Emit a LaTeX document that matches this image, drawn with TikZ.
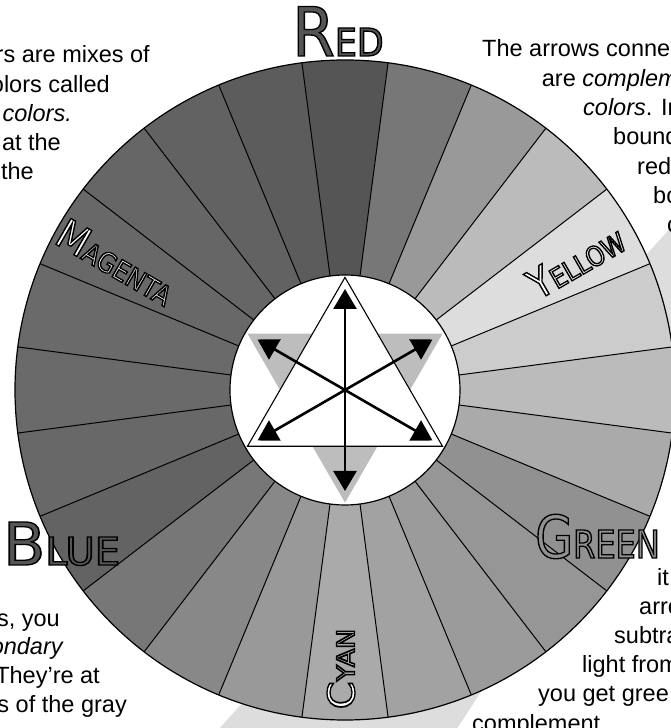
\documentclass[tikz,border=0pt]{standalone}
\usepackage{fontspec}
\usepackage{graphicx}
\setmainfont{Liberation Sans}
\newfontfamily\labfont[FakeStretch=0.8]{DejaVu Sans}
\usetikzlibrary{arrows.meta}
\definecolor{bandgray}{RGB}{221,221,221}
\definecolor{stargray}{RGB}{189,189,189}
\definecolor{darklab}{RGB}{85,85,85}
\definecolor{greenlab}{RGB}{145,145,145}
\newcommand\outlinetext[1]{\special{pdf:literal direct 0 G 2 Tr 1.3 w}#1\special{pdf:literal direct 0 Tr}}
\newcommand\capsl[5]{\scalebox{#1}[1]{\labfont\fontsize{#4}{#4}\selectfont #2\fontsize{#5}{#5}\selectfont #3}}
\tikzset{
  body/.style={font=\fontsize{23.5}{29}\selectfont, inner sep=0pt, text=black},
  lab/.style={inner sep=0pt},
  arr/.style={line width=2.6pt, {Triangle[length=20pt,width=23pt]}-{Triangle[length=20pt,width=23pt]}},
}
\begin{document}
\begin{tikzpicture}[x=1pt,y=1pt]
\useasboundingbox (0,0) rectangle (671,728);
\clip (0,0) rectangle (671,728);
% light band behind the wheel
\fill[bandgray] (186.5,-37) -- (720,555) -- (720,403) -- (445,-19) -- cycle;
% texts
\node[body, anchor=base east] (t1) at (150,665) {rs are mixes of};
\node[body, anchor=base east] (t2) at (110,635.7) {olors called};
\node[body, anchor=base east] (t3) at (72,606.4) {\textit{colors.}};
\node[body, anchor=base east] (t4) at (61,577) {at the};
\node[body, anchor=base east] (t5) at (34,548) {the};
\node[body, anchor=base west] (r1) at (482,671) {The arrows conne};
\node[body, anchor=base west] (r2) at (541.7,641) {are \textit{complemen}};
\node[body, anchor=base west] (r3) at (583,612) {\textit{colors}. In};
\node[body, anchor=base west] (r4) at (613,583) {bound};
\node[body, anchor=base west] (r5) at (637,553) {red};
\node[body, anchor=base west] (r6) at (653,524) {bo};
\node[body, anchor=base west] (r7) at (667,495) {c};
\node[body, anchor=base east] (b1) at (60,101.5) {s, you};
\node[body, anchor=base east] (b2) at (64,73) {\textit{ondary}};
\node[body, anchor=base east] (b3) at (100,44.5) {They're at};
\node[body, anchor=base east] (b4) at (127,16) {s of the gray};
\node[body, anchor=base west] (g1) at (657,142) {it};
\node[body, anchor=base west] (g2) at (639,113) {arro};
\node[body, anchor=base west] (g3) at (614,84) {subtra};
\node[body, anchor=base west] (g4) at (582,55) {light from};
\node[body, anchor=base west] (g5) at (538,26) {you get gree};
\node[body, anchor=base west] (g6) at (472,-3) {complement};
% wheel
\begin{scope}[shift={(345,338)}]
\foreach \a/\g in {90/85, 75/119, 60/153, 45/187, 30/221, 15/204, 0/187, -15/170, -30/145, -45/150, -60/155, -75/162, -90/170, -105/153, -120/136, -135/119, -150/99, -165/104, 180/106, 165/106, 150/104, 135/102, 120/98, 105/92}{
  \definecolor{segc}{RGB}{\g,\g,\g}
  \fill[segc] (\a-7.5:115) arc[start angle=\a-7.5, end angle=\a+7.5, radius=115] -- (\a+7.5:330) arc[start angle=\a+7.5, end angle=\a-7.5, radius=330] -- cycle;
}
\foreach \a in {7.5,22.5,...,352.5}{
  \draw[line width=1pt] (\a:115) -- (\a:330);
}
\draw[line width=1.2pt] (0,0) circle[radius=330];
\filldraw[fill=white, line width=1.2pt] (0,0) circle[radius=115];
% star
\fill[stargray] (150:112.6) -- (30:112.6) -- (270:112.6) -- cycle;
\filldraw[fill=white, line width=1.1pt] (90:112.6) -- (210:112.6) -- (330:112.6) -- cycle;
% arrows
\draw[arr] (90:101) -- (270:101);
\draw[arr] (30:101) -- (210:101);
\draw[arr] (150:101) -- (330:101);
\end{scope}
% labels
\node[lab, anchor=base west, text=darklab] (red) at (292,672) {\outlinetext{\capsl{1.13}{R}{ED}{68}{38.4}}};
\node[lab, anchor=base west, text=darklab] (blue) at (3,163) {\outlinetext{\capsl{1.3}{B}{LUE}{59}{38.4}}};
\node[lab, anchor=base west, text=greenlab] (green) at (535,170) {\outlinetext{\capsl{1.04}{G}{REEN}{59}{38.4}}};
\node[lab, rotate=30, text=white] (yellow) at (576,466.5) {\outlinetext{\capsl{1.08}{Y}{ELLOW}{41}{27.4}}};
\node[lab, rotate=-30, text=white] (magenta) at (116,466) {\outlinetext{\capsl{1.1}{M}{AGENTA}{41}{27.4}}};
\node[lab, rotate=90, text=white] (cyan) at (341,59) {\outlinetext{\capsl{1.35}{C}{YAN}{37}{24.7}}};
\end{tikzpicture}
\end{document}
